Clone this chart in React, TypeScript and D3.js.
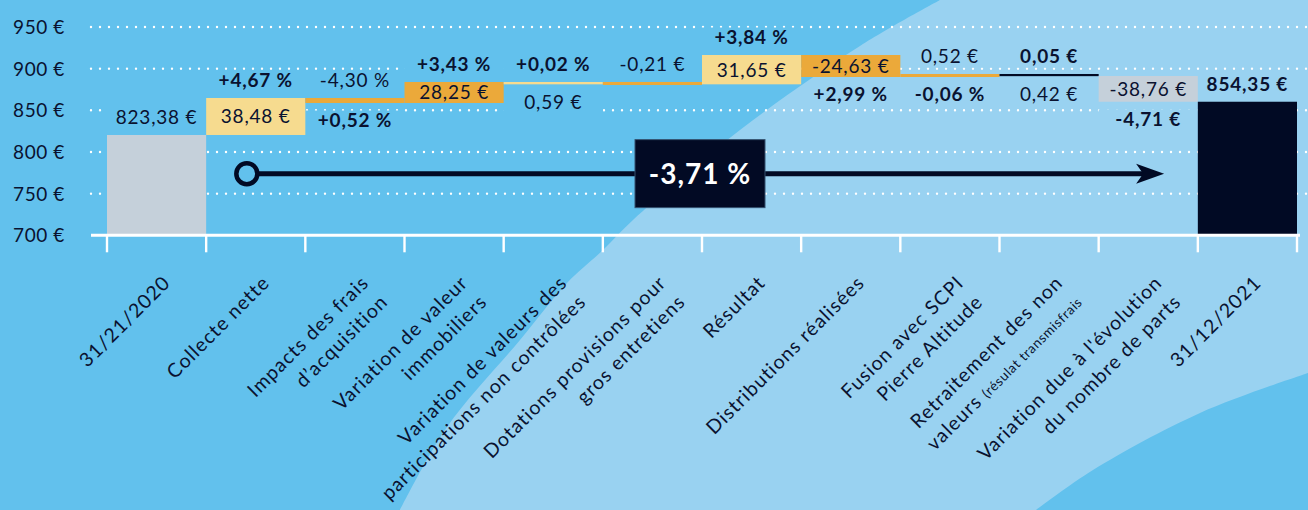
import * as d3 from 'd3';
import { useEffect, useRef } from 'react';

const WIDTH = 1308;
const HEIGHT = 510;
const FONT = 'Lato, "Open Sans", sans-serif';

const categories = [
    ['31/21/2020'],
    ['Collecte nette'],
    ['Impacts des frais', 'd’acquisition'],
    ['Variation de valeur', 'immobiliers'],
    ['Variation de valeurs des', 'participations non contrôlées'],
    ['Dotations provisions pour', 'gros entretiens'],
    ['Résultat'],
    ['Distributions réalisées'],
    ['Fusion avec SCPI', 'Pierre Altitude'],
    ['Retraitement des non', 'valeurs '],
    ["Variation due à l'évolution", 'du nombre de parts'],
    ['31/12/2021'],
];
const categoryNotes = ['', '', '', '', '', '', '', '', '', '(résulat transmisfrais', '', ''];

// levels (in €) as drawn in the picture
const stepLow = [700, 820.4, 858.8, 858.8, 881.2, 880.4, 881.2, 890.0, 890.0, 891.0, 860.3, 700];
const stepHigh = [820.4, 864.8, 864.8, 884.0, 884.0, 884.0, 916.4, 916.4, 893.6, 893.6, 891.2, 860.3];
const stepKind = ['start', 'up', 'down', 'down', 'up', 'down', 'up', 'down', 'down', 'dark', 'neutral', 'end'];

const aboveLabels = ['823,38 €', '+4,67 %', '-4,30 %', '+3,43 %', '+0,02 %', '-0,21 €', '+3,84 %', '', '0,52 €', '0,05 €', '', '854,35 €'];
const aboveBold = [false, true, false, true, true, false, true, false, false, true, false, true];
const innerLabels = ['', '38,48 €', '', '28,25 €', '', '', '31,65 €', '-24,63 €', '', '', '-38,76 €', ''];
const belowLabels = ['', '', '+0,52 %', '', '0,59 €', '', '', '+2,99 %', '-0,06 %', '0,42 €', '-4,71 €', ''];
const belowBold = [false, false, true, false, false, false, false, true, true, false, true, false];

const yTicks = [700, 750, 800, 850, 900, 950];

const totalChange = '-3,71 %';
const arrowLevel = 774;

const COLORS = {
    bgDark: '#62c1ed',
    bgLight: '#99d2f1',
    text: '#0a1230',
    start: '#c5d0da',
    neutral: '#c5d0da',
    up: '#f6db8f',
    down: '#eba93a',
    dark: '#010a24',
    end: '#010a24',
};

export default function App() {
    const svgRef = useRef(null);

    useEffect(() => {
        const svg = d3.select(svgRef.current);
        svg.selectAll('*').remove();
        svg.attr('width', WIDTH).attr('height', HEIGHT).style('font-family', FONT);

        const x = d3
            .scaleBand()
            .domain(categories.map((_, i) => String(i)))
            .range([107, 1297])
            .padding(0);
        const y = d3.scaleLinear().domain([700, 950]).range([235.3, 27]);
        const bw = x.bandwidth();
        const cx = (i) => x(String(i)) + bw / 2;

        // background and swoosh
        svg.append('rect').attr('width', WIDTH).attr('height', HEIGHT).attr('fill', COLORS.bgDark);
        const curve = d3.line().curve(d3.curveCatmullRom);
        const swoosh = [[400, 510], [447, 427], [520, 340], [567, 283], [603, 250], [633, 220], [740, 130], [860, 46], [940, 0]];
        svg.append('path')
            .attr('d', curve(swoosh) + `L${WIDTH},0L${WIDTH},${HEIGHT}Z`)
            .attr('fill', COLORS.bgLight);
        const corner = [[1036, 510], [1093, 470], [1200, 413], [1308, 373]];
        svg.append('path')
            .attr('d', curve(corner) + `L${WIDTH},${HEIGHT}Z`)
            .attr('fill', COLORS.bgDark);

        // mask so labels hide the dotted grid
        const labelRows = [];
        aboveLabels.forEach((t, i) => t && labelRows.push({ i, base: y(stepHigh[i]) - 10.5 }));
        belowLabels.forEach((t, i) => t && labelRows.push({ i, base: y(stepLow[i]) + 24.5 }));
        const mask = svg.append('defs').append('mask').attr('id', 'gridMask').attr('maskUnits', 'userSpaceOnUse');
        mask.append('rect').attr('width', WIDTH).attr('height', HEIGHT).attr('fill', '#fff');
        mask.selectAll('rect.hole')
            .data(labelRows)
            .join('rect')
            .attr('class', 'hole')
            .attr('x', (d) => x(String(d.i)))
            .attr('y', (d) => d.base - 17)
            .attr('width', bw)
            .attr('height', 21)
            .attr('fill', '#000');

        svg.append('g')
            .attr('mask', 'url(#gridMask)')
            .selectAll('line')
            .data(yTicks.slice(1))
            .join('line')
            .attr('x1', 91)
            .attr('x2', WIDTH)
            .attr('y1', (d) => y(d))
            .attr('y2', (d) => y(d))
            .attr('stroke', '#fff')
            .attr('stroke-width', 2.4)
            .attr('stroke-linecap', 'round')
            .attr('stroke-dasharray', '0 9');

        // y axis labels
        svg.append('g')
            .selectAll('text')
            .data(yTicks)
            .join('text')
            .attr('x', 65)
            .attr('y', (d) => y(d) + 7)
            .attr('text-anchor', 'end')
            .attr('font-size', 19)
            .attr('letter-spacing', 0.6)
            .attr('fill', COLORS.text)
            .text((d) => `${d} €`);

        // bars
        svg.append('g')
            .selectAll('rect')
            .data(stepLow)
            .join('rect')
            .attr('x', (_d, i) => x(String(i)))
            .attr('width', bw)
            .attr('y', (_d, i) => y(stepHigh[i]))
            .attr('height', (d, i) => y(d) - y(stepHigh[i]))
            .attr('fill', (_d, i) => COLORS[stepKind[i]]);

        // x axis
        svg.append('line')
            .attr('x1', 91)
            .attr('x2', 1300)
            .attr('y1', y(700))
            .attr('y2', y(700))
            .attr('stroke', '#fff')
            .attr('stroke-width', 3);
        const edges = categories.map((_, i) => x(String(i))).concat([1297]);
        svg.append('g')
            .selectAll('line')
            .data(edges)
            .join('line')
            .attr('x1', (d) => d)
            .attr('x2', (d) => d)
            .attr('y1', y(700))
            .attr('y2', y(700) + 17)
            .attr('stroke', '#fff')
            .attr('stroke-width', 2.4);

        // value labels
        const lab = svg.append('g').attr('fill', COLORS.text).attr('text-anchor', 'middle').attr('font-size', 19).attr('letter-spacing', 0.8);
        aboveLabels.forEach((t, i) => {
            if (!t) return;
            lab.append('text')
                .attr('x', cx(i))
                .attr('y', y(stepHigh[i]) - 10.5)
                .attr('font-weight', aboveBold[i] ? 700 : 400)
                .text(t);
        });
        innerLabels.forEach((t, i) => {
            if (!t) return;
            lab.append('text')
                .attr('x', cx(i))
                .attr('y', (y(stepHigh[i]) + y(stepLow[i])) / 2 + 7)
                .text(t);
        });
        belowLabels.forEach((t, i) => {
            if (!t) return;
            lab.append('text')
                .attr('x', cx(i))
                .attr('y', y(stepLow[i]) + 24.5)
                .attr('font-weight', belowBold[i] ? 700 : 400)
                .text(t);
        });

        // category labels
        const cat = svg.append('g').attr('fill', COLORS.text).attr('font-size', 19.5).attr('letter-spacing', 1.1);
        categories.forEach((lines, i) => {
            const te = cat.append('text')
                .attr('transform', `translate(${cx(i) + 15},284) rotate(-45)`)
                .attr('text-anchor', 'end');
            lines.forEach((l, k) => {
                te.append('tspan').attr('x', 0).attr('dy', k ? 27 : 0).text(l);
            });
            if (categoryNotes[i]) {
                te.append('tspan').attr('font-size', 13.5).attr('letter-spacing', 0.6).text(categoryNotes[i]);
            }
        });

        // total change arrow
        const ay = y(arrowLevel);
        const startX = x('1') + bw * 0.41;
        const tipX = x('10') + bw * 0.66;
        svg.append('line')
            .attr('x1', startX)
            .attr('x2', tipX - 20)
            .attr('y1', ay)
            .attr('y2', ay)
            .attr('stroke', COLORS.end)
            .attr('stroke-width', 5);
        svg.append('path')
            .attr('d', `M${tipX},${ay}L${tipX - 28},${ay - 10}L${tipX - 21},${ay}L${tipX - 28},${ay + 10}Z`)
            .attr('fill', COLORS.end);
        svg.append('circle')
            .attr('cx', startX)
            .attr('cy', ay)
            .attr('r', 10.5)
            .attr('fill', COLORS.bgDark)
            .attr('stroke', COLORS.end)
            .attr('stroke-width', 4.5);
        const boxX = x('6') - 2;
        svg.append('rect')
            .attr('x', boxX - 65)
            .attr('y', ay - 34)
            .attr('width', 130)
            .attr('height', 68)
            .attr('fill', '#020a24')
            .attr('stroke', '#34506e')
            .attr('stroke-width', 1);
        svg.append('text')
            .attr('x', boxX)
            .attr('y', ay + 10)
            .attr('text-anchor', 'middle')
            .attr('font-size', 28)
            .attr('font-weight', 700)
            .attr('letter-spacing', 1)
            .attr('fill', '#fff')
            .text(totalChange);
    }, []);

    return (
        <svg ref={svgRef} style={{ position: 'absolute', left: 0, top: 0, display: 'block' }} />
    );
}
